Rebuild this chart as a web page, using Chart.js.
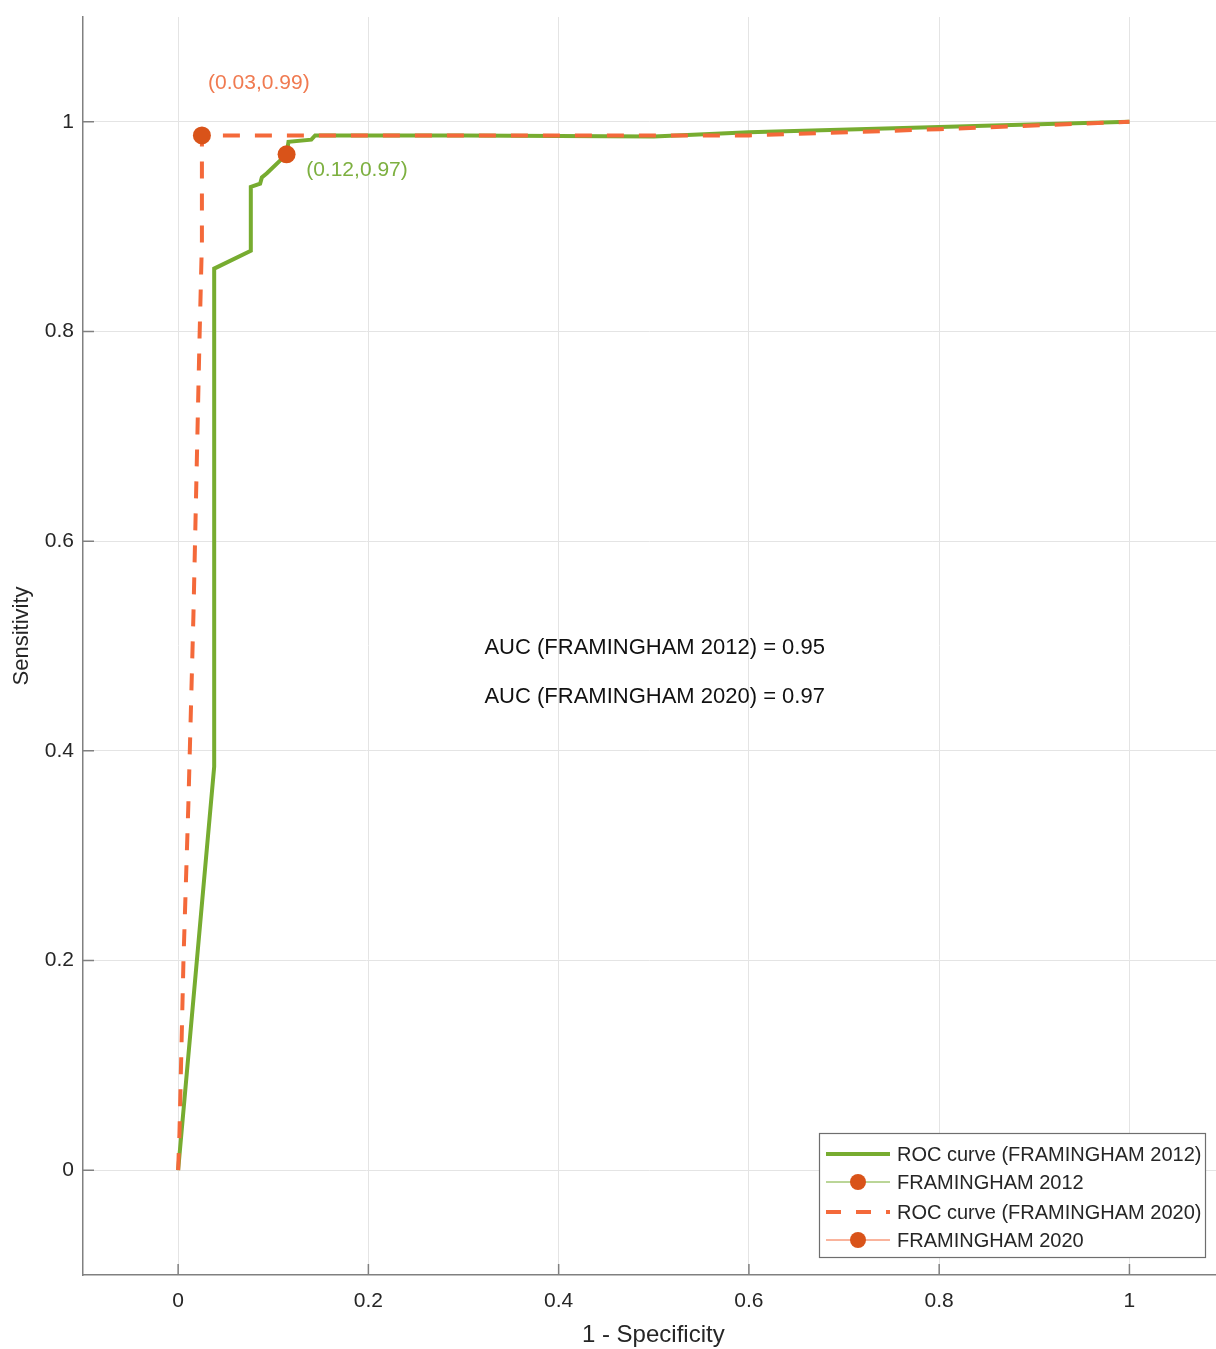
<!DOCTYPE html>
<html>
<head>
<meta charset="utf-8">
<script src="https://cdn.jsdelivr.net/npm/chart.js@4/dist/chart.umd.min.js"></script>
<style>
html,body{margin:0;padding:0;background:#fff;overflow:hidden;}
#c{width:1216px;height:1349px;display:block;}
</style>
</head>
<body>
<canvas id="c" width="1216" height="1349"></canvas>
<script>
// ---- data ----
const tickValues = [0, 0.2, 0.4, 0.6, 0.8, 1];
const tickLabels = ['0', '0.2', '0.4', '0.6', '0.8', '1'];

const roc2012X = [0, 0.0379, 0.0379, 0.0764, 0.0764, 0.0862, 0.088, 0.0933, 0.114, 0.116, 0.140, 0.144, 0.30, 0.5, 0.6, 0.8, 1];
const roc2012Y = [0, 0.385, 0.860, 0.877, 0.938, 0.941, 0.947, 0.951, 0.969, 0.981, 0.983, 0.987, 0.987, 0.986, 0.990, 0.995, 1];

const roc2020X = [0, 0.0014, 0.0056, 0.0108, 0.0161, 0.0224, 0.025, 0.025, 0.55, 0.6, 0.8, 1];
const roc2020Y = [0, 0.035, 0.200, 0.350, 0.530, 0.790, 0.886, 0.987, 0.987, 0.987, 0.993, 1];

const point2012 = [0.114, 0.969];
const point2020 = [0.025, 0.987];
const label2012 = '(0.12,0.97)';
const label2020 = '(0.03,0.99)';
const label2012Pos = [0.1346, 0.954];
const label2020Pos = [0.0315, 1.037];

const aucTexts = ['AUC (FRAMINGHAM 2012) = 0.95', 'AUC (FRAMINGHAM 2020) = 0.97'];
const aucPos = [[0.322, 0.498], [0.322, 0.451]];

const legendLabels = ['ROC curve (FRAMINGHAM 2012)', 'FRAMINGHAM 2012', 'ROC curve (FRAMINGHAM 2020)', 'FRAMINGHAM 2020'];
const xTitle = '1 - Specificity';
const yTitle = 'Sensitivity';
const xTitleCenter = 0.5; // x title centred on the data value 0.5

// ---- styles ----
const GREEN = '#77AC30';
const ORANGE = '#F4693A';
const MARKER = '#D95319';
const FONT = '"Liberation Sans", Arial, sans-serif';
const TEXT = '#262626';
const AXIS = '#808080';

const toPts = (xs, ys) => xs.map((x, i) => ({x: x, y: ys[i]}));

const extras = {
  id: 'extras',
  afterDraw(chart) {
    const ctx = chart.ctx;
    const xs = chart.scales.x, ys = chart.scales.y;
    const area = chart.chartArea;
    ctx.save();
    // inward tick marks
    ctx.strokeStyle = AXIS;
    ctx.lineWidth = 1.5;
    ctx.beginPath();
    tickValues.forEach(v => {
      const px = xs.getPixelForValue(v);
      ctx.moveTo(px, area.bottom);
      ctx.lineTo(px, area.bottom - 11);
      const py = ys.getPixelForValue(v);
      ctx.moveTo(area.left, py);
      ctx.lineTo(area.left + 11, py);
    });
    ctx.stroke();

    // axis titles
    ctx.save();
    ctx.translate(22, (area.top + area.bottom) / 2 - 10);
    ctx.rotate(-Math.PI / 2);
    ctx.font = '22px ' + FONT;
    ctx.fillStyle = TEXT;
    ctx.textAlign = 'center';
    ctx.textBaseline = 'middle';
    ctx.fillText(yTitle, 0, 0);
    ctx.restore();

    ctx.font = '24px ' + FONT;
    ctx.fillStyle = TEXT;
    ctx.textAlign = 'center';
    ctx.textBaseline = 'middle';
    ctx.fillText(xTitle, xs.getPixelForValue(xTitleCenter) - 0.5, area.bottom + 60);

    // annotations
    ctx.textBaseline = 'middle';
    ctx.textAlign = 'left';
    ctx.font = '21px ' + FONT;
    ctx.fillStyle = '#F07A50';
    ctx.fillText(label2020, xs.getPixelForValue(label2020Pos[0]), ys.getPixelForValue(label2020Pos[1]));
    ctx.fillStyle = '#7DB040';
    ctx.fillText(label2012, xs.getPixelForValue(label2012Pos[0]), ys.getPixelForValue(label2012Pos[1]));

    ctx.font = '22px ' + FONT;
    ctx.fillStyle = '#111';
    aucTexts.forEach((t, i) => {
      ctx.fillText(t, xs.getPixelForValue(aucPos[i][0]), ys.getPixelForValue(aucPos[i][1]));
    });

    // legend box
    const bw = 386, bh = 124;
    const bx = area.right - 11 - bw;
    const by = area.bottom - 18 - bh;
    ctx.fillStyle = '#fff';
    ctx.fillRect(bx, by, bw, bh);
    ctx.strokeStyle = '#6E6E6E';
    ctx.lineWidth = 1.2;
    ctx.strokeRect(bx + 0.5, by + 0.5, bw, bh);
    const rowY = [21, 49, 79, 107];
    const lx0 = bx + 7, lx1 = bx + 71, mx = bx + 39;
    ctx.font = '20px ' + FONT;
    ctx.fillStyle = TEXT;
    ctx.textBaseline = 'middle';
    legendLabels.forEach((t, i) => {
      const y = by + rowY[i];
      ctx.save();
      if (i === 0) {
        ctx.strokeStyle = GREEN; ctx.lineWidth = 4; ctx.setLineDash([]);
        ctx.beginPath(); ctx.moveTo(lx0, y); ctx.lineTo(lx1, y); ctx.stroke();
      } else if (i === 2) {
        ctx.strokeStyle = ORANGE; ctx.lineWidth = 4; ctx.setLineDash([15, 15]);
        ctx.beginPath(); ctx.moveTo(lx0, y); ctx.lineTo(lx1, y); ctx.stroke();
      } else {
        ctx.strokeStyle = i === 1 ? GREEN : ORANGE; ctx.lineWidth = 1;
        ctx.beginPath(); ctx.moveTo(lx0, y); ctx.lineTo(lx1, y); ctx.stroke();
        ctx.fillStyle = MARKER;
        ctx.beginPath(); ctx.arc(mx, y, 8, 0, Math.PI * 2); ctx.fill();
      }
      ctx.restore();
      ctx.fillStyle = TEXT;
      ctx.fillText(t, bx + 78, y + 1);
    });
    ctx.restore();
  }
};

const zeroPad = s => { s.paddingLeft = 0; s.paddingRight = 0; s.paddingTop = 0; s.paddingBottom = 0; };

new Chart(document.getElementById('c'), {
  type: 'scatter',
  data: {
    datasets: [
      {
        label: 'FRAMINGHAM 2020',
        data: [{x: point2020[0], y: point2020[1]}],
        pointRadius: 9, pointBackgroundColor: MARKER, pointBorderColor: MARKER, pointBorderWidth: 0,
        showLine: false, order: 0
      },
      {
        label: 'FRAMINGHAM 2012',
        data: [{x: point2012[0], y: point2012[1]}],
        pointRadius: 9, pointBackgroundColor: MARKER, pointBorderColor: MARKER, pointBorderWidth: 0,
        showLine: false, order: 0
      },
      {
        label: 'ROC curve (FRAMINGHAM 2020)',
        data: toPts(roc2020X, roc2020Y),
        showLine: true, borderColor: ORANGE, borderWidth: 4, borderDash: [17, 15],
        pointRadius: 0, tension: 0, fill: false, order: 1
      },
      {
        label: 'ROC curve (FRAMINGHAM 2012)',
        data: toPts(roc2012X, roc2012Y),
        showLine: true, borderColor: GREEN, borderWidth: 4,
        pointRadius: 0, tension: 0, fill: false, order: 2
      }
    ]
  },
  options: {
    responsive: false,
    animation: false,
    layout: {autoPadding: false, padding: {top: 17, right: 0, left: 0, bottom: 0}},
    plugins: {legend: {display: false}, tooltip: {enabled: false}},
    scales: {
      x: {
        type: 'linear', min: -0.1, max: 1.091,
        afterBuildTicks: s => { s.ticks = tickValues.map(v => ({value: v})); },
        afterFit: s => { s.height = 74; zeroPad(s); },
        ticks: {
          callback: (v) => tickLabels[tickValues.indexOf(v)] ?? '',
          font: {family: FONT, size: 21}, color: TEXT, padding: 14, maxRotation: 0, autoSkip: false
        },
        grid: {color: '#E4E4E4', lineWidth: 1, drawTicks: false},
        border: {display: true, color: AXIS, width: 1.5},
        title: {display: false}
      },
      y: {
        type: 'linear', min: -0.1, max: 1.1,
        afterBuildTicks: s => { s.ticks = tickValues.map(v => ({value: v})); },
        afterFit: s => { s.width = 83; zeroPad(s); },
        ticks: {
          callback: (v) => tickLabels[tickValues.indexOf(v)] ?? '',
          font: {family: FONT, size: 21}, color: TEXT, padding: 9, autoSkip: false
        },
        grid: {color: '#E4E4E4', lineWidth: 1, drawTicks: false},
        border: {display: true, color: AXIS, width: 1.5},
        title: {display: false}
      }
    }
  },
  plugins: [extras]
});
</script>
</body>
</html>
